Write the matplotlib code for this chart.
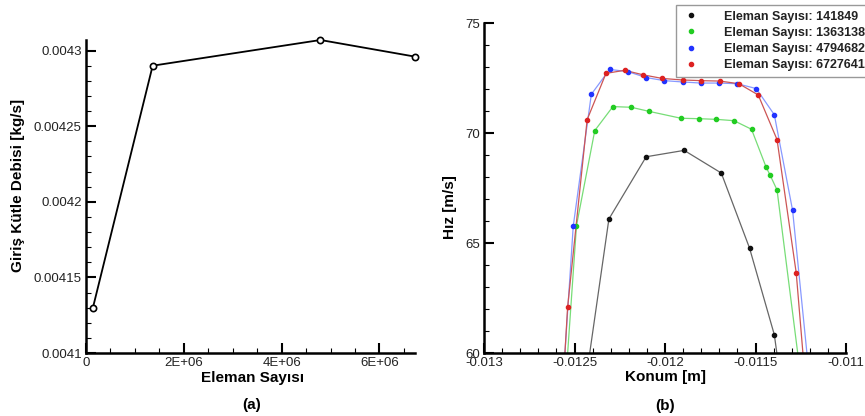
import matplotlib
matplotlib.use("Agg")
import matplotlib.pyplot as plt
from matplotlib.ticker import MultipleLocator, FuncFormatter, FixedLocator
from matplotlib.lines import Line2D

plt.rcParams['font.family'] = ['Liberation Sans', 'DejaVu Sans']

# ---- Panel (a) data ----
mesh_counts = [141849, 1363138, 4794682, 6727641]
mass_flow = [0.00413, 0.00429, 0.004307, 0.004296]

# ---- Panel (b) data ----
labels_b = ["Eleman Sayısı: 141849", "Eleman Sayısı: 1363138",
            "Eleman Sayısı: 4794682", "Eleman Sayısı: 6727641"]

x_141849 = [-0.012515, -0.012310, -0.012104, -0.011894, -0.011689, -0.011533, -0.011396, -0.011290]
v_141849 = [54.3, 66.09, 68.92, 69.21, 68.18, 64.77, 60.83, 54.5]

x_1363138 = [-0.012553, -0.012489, -0.012388, -0.012288, -0.012187, -0.012086, -0.011912,
             -0.011811, -0.011716, -0.011619, -0.011522, -0.011441, -0.011419, -0.011381, -0.011216]
v_1363138 = [58.2, 65.79, 70.11, 71.20, 71.17, 70.98, 70.67,
             70.65, 70.62, 70.56, 70.17, 68.44, 68.08, 67.41, 56.7]

x_4794682 = [-0.012608, -0.012507, -0.012407, -0.012306, -0.012205, -0.012104, -0.012004,
             -0.011903, -0.011802, -0.011700, -0.011601, -0.011496, -0.011396, -0.011295, -0.011194]
v_4794682 = [53.1, 65.76, 71.76, 72.89, 72.79, 72.52, 72.38,
             72.32, 72.27, 72.27, 72.24, 72.02, 70.83, 66.48, 58.2]

x_6727641 = [-0.012645, -0.012538, -0.012430, -0.012326, -0.012223, -0.012119, -0.012015,
             -0.011903, -0.011802, -0.011696, -0.011592, -0.011485, -0.011381, -0.011275, -0.011170]
v_6727641 = [47.0, 62.09, 70.61, 72.71, 72.85, 72.64, 72.48,
             72.41, 72.38, 72.36, 72.24, 71.73, 69.70, 63.64, 53.3]

marker_colors = ['#111111', '#22cc22', '#2233ff', '#dd2222']
line_colors = ['#666666', '#77dd77', '#8899ff', '#cc5555']

xticks_a = [0, 2e6, 4e6, 6e6]
yticks_a = [0.0041, 0.00415, 0.0042, 0.00425, 0.0043]
xticks_b = [-0.013, -0.0125, -0.012, -0.0115, -0.011]
yticks_b = [60, 65, 70, 75]

W, H = 865, 416
fig = plt.figure(figsize=(W / 100, H / 100), dpi=100)


def px_axes(l, r, b, t):
    return fig.add_axes([l / W, (H - b) / H, (r - l) / W, (b - t) / H])


def style(ax):
    for s in ('top', 'right'):
        ax.spines[s].set_visible(False)
    for s in ('left', 'bottom'):
        ax.spines[s].set_linewidth(1.8)
    ax.tick_params(which='major', direction='in', length=7, width=1.5, labelsize=9.5,
                   colors='black', labelcolor='#222222', pad=3)
    ax.tick_params(which='minor', direction='in', length=3.5, width=0.8)
    ax.tick_params(axis='both', which='both', top=False, right=False)


# ---- Panel (a) ----
ax1 = px_axes(86, 415, 353, 40)
ax1.plot(mesh_counts, mass_flow, color='black', lw=1.3, marker='o', ms=4.5,
         mfc='white', mec='black', mew=1.2, clip_on=False, zorder=3)
ax1.set_xlim(0, 6727641)
ax1.set_ylim(0.0041, 0.004307)
ax1.xaxis.set_major_locator(FixedLocator(xticks_a))
ax1.yaxis.set_major_locator(FixedLocator(yticks_a))
ax1.xaxis.set_minor_locator(MultipleLocator(0.5e6))
ax1.yaxis.set_minor_locator(MultipleLocator(0.00001))
ax1.xaxis.set_major_formatter(FuncFormatter(lambda v, p: '%G' % v))
ax1.yaxis.set_major_formatter(FuncFormatter(lambda v, p: '%g' % round(v, 6)))
style(ax1)
ax1.set_xlabel('Eleman Sayısı', fontsize=11, fontweight='bold')
ax1.set_ylabel('Giriş Kütle Debisi [kg/s]', fontsize=11, fontweight='bold')
ax1.xaxis.set_label_coords(0.505, -0.080)
ax1.xaxis.label.set_va('center')
ax1.yaxis.set_label_coords(-0.207, 0.534)
ax1.yaxis.label.set_va('center')

# ---- Panel (b) ----
ax2 = px_axes(484, 846, 353, 23)
series = [(x_141849, v_141849), (x_1363138, v_1363138),
          (x_4794682, v_4794682), (x_6727641, v_6727641)]
for (xs, vs), mc, lc in zip(series, marker_colors, line_colors):
    ax2.plot(xs, vs, color=lc, lw=0.9, zorder=2)
    ax2.plot(xs, vs, ls='none', marker='o', ms=3, color=mc, mec=mc, zorder=3)
ax2.set_xlim(-0.013, -0.011)
ax2.set_ylim(60, 75)
ax2.xaxis.set_major_locator(FixedLocator(xticks_b))
ax2.yaxis.set_major_locator(FixedLocator(yticks_b))
ax2.xaxis.set_minor_locator(MultipleLocator(0.0001))
ax2.yaxis.set_minor_locator(MultipleLocator(1))
ax2.xaxis.set_major_formatter(FuncFormatter(lambda v, p: '%g' % round(v, 6)))
ax2.yaxis.set_major_formatter(FuncFormatter(lambda v, p: '%g' % v))
style(ax2)
ax2.set_xlabel('Konum [m]', fontsize=11, fontweight='bold')
ax2.set_ylabel('Hız [m/s]', fontsize=11, fontweight='bold')
ax2.xaxis.set_label_coords(0.5, -0.073)
ax2.xaxis.label.set_va('center')
ax2.yaxis.set_label_coords(-0.094, 0.442)
ax2.yaxis.label.set_va('center')

handles = [Line2D([], [], ls='none', marker='o', ms=3, color=c) for c in marker_colors]
leg = fig.legend(handles, labels_b, loc='upper left',
                 bbox_to_anchor=(676 / W, 1 - 5 / H), bbox_transform=fig.transFigure,
                 prop={'weight': 'bold', 'size': 9}, frameon=True, fancybox=False,
                 edgecolor='#999999', framealpha=1, borderpad=0.45, labelspacing=0.33,
                 handlelength=1.5, handletextpad=1.9, borderaxespad=0)
leg.get_frame().set_linewidth(1.0)
for t in leg.get_texts():
    t.set_color('#222222')

fig.text(252 / W, 1 - 405 / H, '(a)', ha='center', va='center', fontsize=11, fontweight='bold')
fig.text(665 / W, 1 - 406 / H, '(b)', ha='center', va='center', fontsize=11, fontweight='bold')

fig.savefig('out.png', dpi=100)
